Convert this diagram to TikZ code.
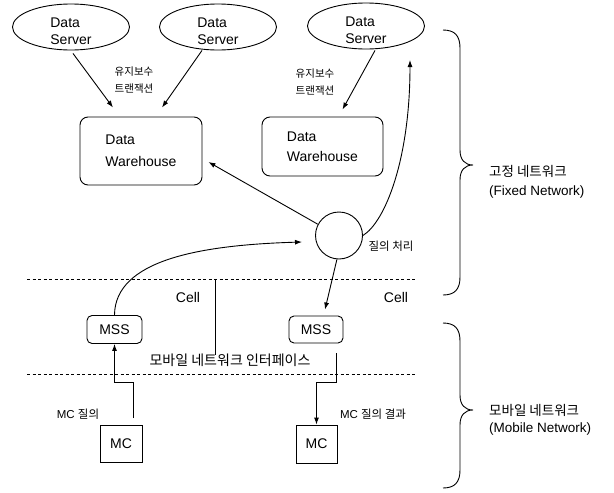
\documentclass[tikz,border=0pt]{standalone}
\usepackage{fontspec}
\setmainfont{Liberation Sans}
\newfontfamily\kr{Noto Sans CJK KR}
\usetikzlibrary{arrows.meta,shapes.geometric,calc}

\tikzset{
  base/.style={line width=0.9pt},
  arr/.style={base,-{Latex[length=7pt,width=5pt]}},
  server/.style={base,draw,ellipse,inner sep=0pt,minimum width=117pt,minimum height=46pt},
  servertxt/.style={inner sep=0pt,align=left,font=\fontsize{14}{17}\selectfont},
  warehouse/.style={base,draw,rectangle,rounded corners=8pt,inner sep=0pt,align=left,
    font=\fontsize{14}{22}\selectfont},
  mss/.style={base,draw,rectangle,rounded corners=5pt,inner sep=0pt,
    minimum width=55pt,minimum height=28pt,font=\fontsize{14}{17}\selectfont},
  mc/.style={base,draw,rectangle,inner sep=0pt,minimum width=42pt,minimum height=37pt,
    font=\fontsize{14}{17}\selectfont},
  krsmall/.style={inner sep=0pt,align=left,font=\kr\fontsize{10.5}{17}\selectfont},
  lbl/.style={inner sep=0pt,font=\fontsize{11.5}{14}\selectfont},
  celltxt/.style={inner sep=0pt,font=\fontsize{14}{17}\selectfont},
  sidetxt/.style={inner sep=0pt,anchor=west,align=left,font=\fontsize{13.5}{19}\selectfont},
  divider/.style={line width=0.9pt,dash pattern=on 3pt off 2.5pt},
  bracepath/.style={line width=0.9pt}
}

\begin{document}
\begin{tikzpicture}[x=1pt,y=-1pt]
\useasboundingbox (0,0) rectangle (614,493);

% data servers
\node[server] (ds1) at (71,27) {};
\node[server] (ds2) at (218,27) {};
\node[server] (ds3) at (366,26) {};
\node[servertxt] (ds1t) at (71,31) {Data\\Server};
\node[servertxt] (ds2t) at (218,31) {Data\\Server};
\node[servertxt] (ds3t) at (366,30) {Data\\Server};

% warehouses
\node[warehouse,minimum width=122pt,minimum height=68pt] (dw1) at (141,151) {Data\\Warehouse};
\node[warehouse,minimum width=121pt,minimum height=59pt,font=\fontsize{14}{20}\selectfont] (dw2) at (322.5,146.5) {Data\\Warehouse};

% maintenance transaction labels
\node[krsmall] (t1) at (134,80) {유지보수\\트랜잭션};
\node[krsmall] (t2) at (315,82) {유지보수\\트랜잭션};

% query processor
\node[base,draw,circle,minimum size=47pt,inner sep=0pt] (q) at (339,235.5) {};
\node[lbl,font=\kr\fontsize{11.5}{14}\selectfont] (qlab) at (391,246) {질의 처리};

% cell boundaries
\coordinate (d1a) at (27,279);
\coordinate (d1b) at (417,279);
\coordinate (d2a) at (27,374);
\coordinate (d2b) at (417,374);
\draw[divider] (d1a) -- (d1b);
\draw[divider] (d2a) -- (d2b);
\coordinate (va) at (215,280);
\coordinate (vb) at (215,355);
\draw[base] (va) -- (vb);
\node[celltxt] (c1) at (188,297) {Cell};
\node[celltxt] (c2) at (396,297) {Cell};

% mobile support stations and hosts
\node[mss] (mss1) at (114.5,329.5) {MSS};
\node[mss,minimum width=54pt,minimum height=27pt] (mss2) at (316,329.5) {MSS};
\node[mc] (mc1) at (121,443.5) {MC};
\node[mc,minimum width=41pt,minimum height=38pt] (mc2) at (316.5,444) {MC};

\node[inner sep=0pt,font=\kr\fontsize{14}{17}\selectfont] (mni) at (230,360) {모바일 네트워크 인터페이스};
\node[lbl] (mcq) at (78,414) {MC {\kr 질의}};
\node[lbl] (mcr) at (373,414) {MC {\kr 질의 결과}};

% server to warehouse updates
\draw[arr] ($(ds1.south)+(2,3)$) -- ($(dw1.north)+(-28,-9)$);
\draw[arr] ($(ds2.south)+(-16,0)$) -- ($(dw1.north)+(21,-9)$);
\draw[arr] ($(ds3.south)+(9,1)$) -- ($(dw2.north)+(20,-7)$);

% query flow
\draw[arr] (q.152) -- ($(dw1.east)+(6,11)$);
\draw[arr] (q.east) .. controls (385,222) and (410,160) .. (410,60);
\draw[arr] (mss1.north) .. controls (115,260) and (200,245) .. (302,242);
\draw[arr] (q.265) -- ($(mss2.north)+(9,-6)$);

% host to station links
\coordinate (m1s) at (133,418);
\draw[arr] (m1s) -- (133,382) -- (114.5,382) -- (mss1.south);
\coordinate (m2s) at (336,353);
\draw[arr] (m2s) -- (336,382) -- (316.5,382) -- (mc2.north);

% braces
\draw[bracepath] (443,30) .. controls (455,30) and (460,36) .. (460,48) -- (460,150)
  .. controls (460,160) and (465,165) .. (473,165)
  .. controls (465,165) and (460,170) .. (460,180) -- (460,277)
  .. controls (460,289) and (455,295) .. (443,295);
\draw[bracepath] (443,323) .. controls (455,323) and (460,329) .. (460,341) -- (460,395)
  .. controls (460,405) and (465,410) .. (473,410)
  .. controls (465,410) and (460,415) .. (460,425) -- (460,470)
  .. controls (460,482) and (455,488) .. (443,488);

\node[sidetxt] (fixed) at (489,182) {{\kr 고정 네트워크}\\(Fixed Network)};
\node[sidetxt,font=\fontsize{13.5}{17}\selectfont] (mobile) at (489,420) {{\kr 모바일 네트워크}\\(Mobile Network)};
\end{tikzpicture}
\end{document}
